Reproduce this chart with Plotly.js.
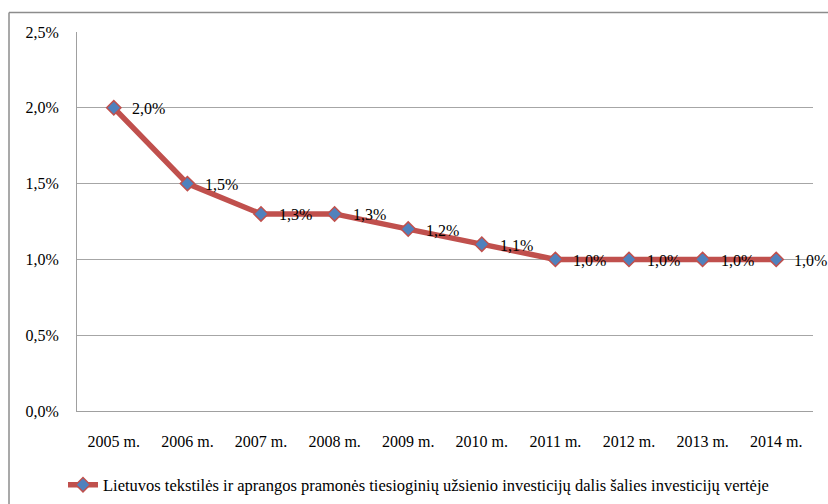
<!DOCTYPE html>
<html>
<head>
<meta charset="utf-8">
<script src="https://cdn.plot.ly/plotly-3.0.1.min.js"></script>
<style>
html,body{margin:0;padding:0;background:#fff;}
#chart{width:828px;height:504px;}
</style>
</head>
<body>
<div id="chart"></div>
<script>
const years = ["2005 m.","2006 m.","2007 m.","2008 m.","2009 m.","2010 m.","2011 m.","2012 m.","2013 m.","2014 m."];
const shareValues = [0.020,0.015,0.013,0.013,0.012,0.011,0.010,0.010,0.010,0.010];
const seriesName = "Lietuvos tekstilės ir aprangos pramonės tiesioginių užsienio investicijų dalis šalies investicijų vertėje";
const yTickVals = [0,0.005,0.010,0.015,0.020,0.025];

const W = 828, H = 504;
const m = {l:77, r:15, t:31.5, b:92.5};
const pw = W - m.l - m.r, ph = H - m.t - m.b;
const px = v => (v - m.l) / pw;
const py = v => (H - m.b - v) / ph;

const fontFam = "Liberation Serif, Times New Roman, serif";
const fmt = v => (v*100).toFixed(1).replace('.', ',') + '%';

const trace = {
  x: years,
  y: shareValues,
  type: 'scatter',
  mode: 'lines+markers',
  name: seriesName,
  line: {color:'#C0504D', width:5.5},
  marker: {symbol:'diamond', size:11, color:'#4F81BD', line:{color:'#C0504D', width:1.5}},
  hoverinfo: 'skip'
};

const annotations = years.map((c,i) => ({
  x: c, y: shareValues[i], xref:'x', yref:'y',
  text: fmt(shareValues[i]), showarrow:false,
  xanchor:'left', yanchor:'middle', xshift:16, yshift:-1,
  font:{family:fontFam, size:16, color:'#000'}
}));

const layout = {
  width: W, height: H,
  margin: m,
  paper_bgcolor:'#fff', plot_bgcolor:'#fff',
  separators: ', ',
  showlegend: true,
  font: {family: fontFam, size: 16, color:'#000'},
  xaxis: {
    type:'category', range:[-0.5, 9.5],
    showgrid:false, zeroline:false,
    showline:true, linecolor:'#A0A0A0', linewidth:1,
    ticks:'', ticklabelstandoff: 16,
    tickfont:{family:fontFam, size:16, color:'#000'},
    fixedrange:true, automargin:false
  },
  yaxis: {
    range:[0, 0.025], tickvals: yTickVals, tickformat:'.1%',
    showgrid:true, gridcolor:'#A6A6A6', gridwidth:1,
    zeroline:false, showline:true, linecolor:'#A0A0A0', linewidth:1,
    ticks:'', ticklabelstandoff: 14,
    tickfont:{family:fontFam, size:16, color:'#000'},
    fixedrange:true, automargin:false
  },
  legend: {
    orientation:'h', xref:'container', yref:'container',
    x: 63/W, xanchor:'left', y: 1 - 485/H, yanchor:'middle',
    font:{family:fontFam, size:16.5, color:'#000'},
    bgcolor:'rgba(0,0,0,0)', itemclick:false
  },
  annotations: annotations,
  shapes: [
    {type:'line', xref:'paper', yref:'paper', x0:px(9), x1:px(840), y0:py(12), y1:py(12), line:{color:'#8C8C8C', width:1.5}},
    {type:'line', xref:'paper', yref:'paper', x0:px(9), x1:px(9), y0:py(12), y1:py(520), line:{color:'#8C8C8C', width:1.5}}
  ]
};

Plotly.newPlot('chart', [trace], layout, {displayModeBar:false, staticPlot:true});
</script>
</body>
</html>
